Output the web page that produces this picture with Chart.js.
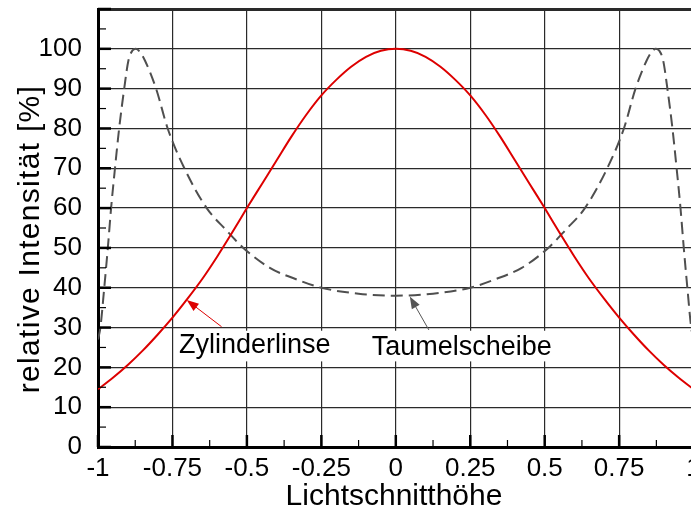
<!DOCTYPE html>
<html>
<head>
<meta charset="utf-8">
<script src="https://cdn.jsdelivr.net/npm/chart.js@4.4.1/dist/chart.umd.min.js"></script>
<style>
  html, body { margin: 0; padding: 0; background: #fff; overflow: hidden; }
  #wrap { width: 720px; height: 510px; }
</style>
</head>
<body>
<div id="wrap"><canvas id="chart" width="720" height="510"></canvas></div>
<script>
// Achsen
const xTicks = [-1, -0.75, -0.5, -0.25, 0, 0.25, 0.5, 0.75, 1];
const xTickLabels = ["-1", "-0.75", "-0.5", "-0.25", "0", "0.25", "0.5", "0.75", "1"];
const yTicks = [0, 10, 20, 30, 40, 50, 60, 70, 80, 90, 100];

// Zylinderlinse (rot)
const zylX = [-1, -0.95, -0.9, -0.85, -0.8, -0.75, -0.7, -0.65, -0.6, -0.55, -0.5,
  -0.45, -0.4, -0.35, -0.3, -0.25, -0.2, -0.15, -0.1, -0.05, 0,
  0.05, 0.1, 0.15, 0.2, 0.25, 0.3, 0.35, 0.4, 0.45, 0.5,
  0.55, 0.6, 0.65, 0.7, 0.75, 0.8, 0.85, 0.9, 0.95, 1];
const zylY = [14.5, 17.4, 20.6, 24.2, 28.2, 32.5, 37.2, 42.2, 47.8, 53.8, 60,
  66, 72, 78, 83.5, 88.3, 92.2, 95.5, 98, 99.5, 100,
  99.5, 98, 95.5, 92.2, 88.3, 83.5, 78, 72, 66, 60,
  53.8, 47.8, 42.2, 37.2, 32.5, 28.2, 24.2, 20.6, 17.4, 14.5];

// Taumelscheibe (grau, gestrichelt)
const taumelX = [-1, -0.992, -0.979, -0.967, -0.956, -0.943, -0.929, -0.912, -0.898, -0.885,
  -0.873, -0.86, -0.842, -0.805, -0.766, -0.71, -0.635, -0.57, -0.512, -0.423,
  -0.33, -0.25, -0.125, 0, 0.125, 0.25, 0.33,
  0.423, 0.512, 0.57, 0.635, 0.71, 0.766, 0.805, 0.842, 0.86, 0.873,
  0.885, 0.898, 0.912, 0.929, 0.943, 0.956, 0.967, 0.979, 0.992, 1];
const taumelY = [27, 30, 40, 50, 60, 70, 80, 90, 97, 99.5,
  100, 99.3, 97, 90, 80, 70, 60, 54.5, 50, 45,
  42, 40, 38.5, 38, 38.5, 40, 42,
  45, 50, 54.5, 60, 70, 80, 90, 97, 99.3, 100,
  99.5, 97, 90, 80, 70, 60, 50, 40, 30, 27];

// Beschriftungen mit Pfeil (Datenkoordinaten)
const labels = [
  { text: "Zylinderlinse", x: -0.728, y: 23.6, box: [-0.74, 29.2, -0.18, 21.5], tail: [-0.585, 30.2], tip: [-0.702, 36.9], color: "#dd0000" },
  { text: "Taumelscheibe", x: -0.081, y: 23.1, box: [-0.085, 29.2, 0.56, 21.5], tail: [0.111, 29.4], tip: [0.047, 37.8], color: "#555555" }
];

const FONT = "'Liberation Sans', Arial, Helvetica, sans-serif";
const pts = (xs, ys) => xs.map((x, i) => ({ x, y: ys[i] }));

function arrow(ctx, x1, y1, x2, y2, color) {
  const a = Math.atan2(y2 - y1, x2 - x1);
  const len = 12, half = 4.5;
  ctx.save();
  ctx.strokeStyle = color;
  ctx.fillStyle = color;
  ctx.lineWidth = 1;
  ctx.beginPath();
  ctx.moveTo(x1, y1);
  ctx.lineTo(x2 - Math.cos(a) * len * 0.8, y2 - Math.sin(a) * len * 0.8);
  ctx.stroke();
  ctx.beginPath();
  ctx.moveTo(x2, y2);
  ctx.lineTo(x2 - Math.cos(a) * len - Math.sin(a) * half, y2 - Math.sin(a) * len + Math.cos(a) * half);
  ctx.lineTo(x2 - Math.cos(a) * len + Math.sin(a) * half, y2 - Math.sin(a) * len - Math.cos(a) * half);
  ctx.closePath();
  ctx.fill();
  ctx.restore();
}

const decor = {
  id: "decor",
  beforeDatasetsDraw(chart) {
    const { ctx, scales: { x, y } } = chart;
    // weiße Hintergründe hinter den Kurvennamen
    ctx.save();
    ctx.fillStyle = "#fff";
    labels.forEach(l => {
      const x0 = x.getPixelForValue(l.box[0]);
      const y0 = y.getPixelForValue(l.box[1]);
      const x1 = x.getPixelForValue(l.box[2]);
      const y1 = y.getPixelForValue(l.box[3]);
      ctx.fillRect(x0, y0, x1 - x0, y1 - y0);
    });
    ctx.restore();
  },
  afterDraw(chart) {
    const { ctx, chartArea: area, scales: { x, y } } = chart;
    ctx.save();

    // Teilstriche nach innen
    ctx.strokeStyle = "#000";
    for (let v = 0; v <= 110; v += 5) {
      const py = y.getPixelForValue(v);
      const major = v % 10 === 0;
      ctx.lineWidth = major ? 2.5 : 1.2;
      ctx.beginPath();
      ctx.moveTo(area.left, py);
      ctx.lineTo(area.left + (major ? 13 : 8), py);
      ctx.stroke();
    }
    for (let v = -1; v <= 1.0001; v += 0.125) {
      const px = x.getPixelForValue(v);
      const major = Math.abs(v * 4 - Math.round(v * 4)) < 1e-6;
      ctx.lineWidth = major ? 2.5 : 1.2;
      ctx.beginPath();
      ctx.moveTo(px, area.bottom);
      ctx.lineTo(px, area.bottom - (major ? 12 : 7));
      ctx.stroke();
    }

    // Kurvennamen und Pfeile
    ctx.fillStyle = "#000";
    ctx.font = "27px " + FONT;
    ctx.textBaseline = "alphabetic";
    ctx.textAlign = "left";
    labels.forEach(l => {
      ctx.fillText(l.text, x.getPixelForValue(l.x), y.getPixelForValue(l.y));
      arrow(ctx,
        x.getPixelForValue(l.tail[0]), y.getPixelForValue(l.tail[1]),
        x.getPixelForValue(l.tip[0]), y.getPixelForValue(l.tip[1]), l.color);
    });

    // Achsentitel
    ctx.font = "30px " + FONT;
    ctx.textAlign = "center";
    ctx.fillText("Lichtschnitthöhe", 394, 505);
    ctx.translate(39, 239);
    ctx.rotate(-Math.PI / 2);
    ctx.letterSpacing = "1.3px";
    ctx.fillText("relative Intensität [%]", 0, 0);
    ctx.restore();
  }
};

new Chart(document.getElementById("chart"), {
  type: "line",
  data: {
    datasets: [
      {
        label: "Zylinderlinse",
        data: pts(zylX, zylY),
        borderColor: "#dd0000",
        borderWidth: 2,
        pointRadius: 0,
        cubicInterpolationMode: "monotone"
      },
      {
        label: "Taumelscheibe",
        data: pts(taumelX, taumelY),
        borderColor: "#4f4f4f",
        borderWidth: 2,
        borderDash: [12, 6],
        pointRadius: 0,
        cubicInterpolationMode: "monotone"
      }
    ]
  },
  options: {
    responsive: false,
    animation: false,
    layout: { padding: { top: 9, right: 26.4, left: 0, bottom: 0 } },
    plugins: { legend: { display: false }, tooltip: { enabled: false } },
    scales: {
      x: {
        type: "linear",
        min: -1,
        max: 1,
        afterBuildTicks: s => { s.ticks = xTicks.map(v => ({ value: v })); },
        afterFit: s => { s.height = 63; s.paddingLeft = 0; s.paddingRight = 0; },
        ticks: {
          autoSkip: false,
          maxRotation: 0,
          padding: 6,
          color: "#000",
          font: { family: FONT, size: 26 },
          callback: (v, i) => xTickLabels[i]
        },
        grid: { color: "#2a2a2a", lineWidth: 1.2, drawTicks: false },
        border: { color: "#000", width: 3 }
      },
      y: {
        min: 0,
        max: 110,
        ticks: {
          stepSize: 10,
          padding: 16,
          color: "#000",
          font: { family: FONT, size: 26 },
          callback: v => (yTicks.includes(v) ? String(v) : "")
        },
        afterFit: s => { s.width = 98; s.paddingTop = 0; s.paddingBottom = 0; },
        grid: {
          color: "#2a2a2a",
          lineWidth: c => (c.tick && c.tick.value === 110 ? 3 : 1.2),
          drawTicks: false
        },
        border: { color: "#000", width: 3 }
      }
    }
  },
  plugins: [decor]
});
</script>
</body>
</html>
